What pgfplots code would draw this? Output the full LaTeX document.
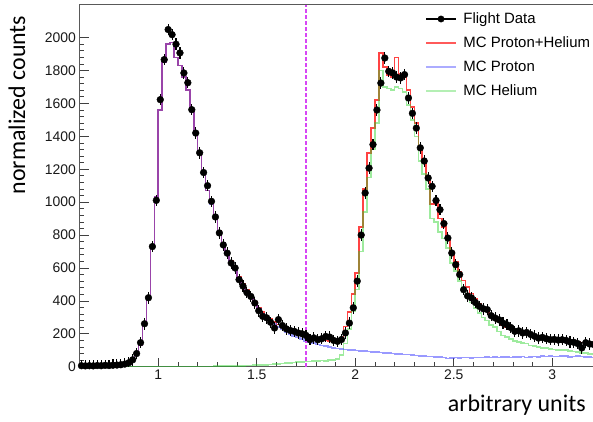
\documentclass[border=0pt]{standalone}
\usepackage{pgfplots}
\usepackage{pgfplotstable}
\usepackage{fontspec}
\setmainfont{Liberation Sans}
\newfontfamily\calib{Carlito}
\pgfplotsset{compat=1.18}
\definecolor{mcred}{RGB}{255,20,20}
\definecolor{mcblue}{RGB}{70,70,255}
\definecolor{mcgreen}{RGB}{40,210,40}
\definecolor{cutmag}{RGB}{215,70,245}

\pgfplotstableread{
x p h s d
0.61 2 0 2 6
0.63 2 0 2 5
0.65 2 0 2 6
0.67 3 0 3 5
0.69 3 0 3 7
0.71 3 0 3 6
0.73 4 0 4 8
0.75 4 0 4 7
0.77 5 0 5 9
0.79 6 0 6 10
0.81 8 0 8 12
0.83 11 0 11 16
0.85 18 0 18 24
0.87 35 0 35 42
0.89 70 0 70 80
0.91 130 0 130 146
0.93 250 0 250 261
0.95 420 0 420 419
0.97 730 0 730 730
0.99 1030 0 1030 1011
1.01 1560 0 1560 1623
1.03 1850 0 1850 1866
1.05 1960 0 1960 2049
1.07 1970 0 1970 2018
1.09 1880 0 1880 1960
1.11 1830 0 1830 1907
1.13 1760 0 1760 1785
1.15 1680 0 1680 1726
1.17 1560 0 1560 1562
1.19 1420 0 1420 1420
1.21 1290 1 1291 1300
1.23 1170 1 1171 1180
1.25 1070 2 1072 1100
1.27 990 2 992 1005
1.29 900 3 903 910
1.31 820 3 823 813
1.33 750 4 754 740
1.35 690 4 694 690
1.37 640 5 645 630
1.39 590 5 595 600
1.41 540 6 546 529
1.43 500 6 506 490
1.45 460 7 467 450
1.47 420 8 428 427
1.49 385 9 394 387
1.51 350 10 360 340
1.53 322 11 333 306
1.55 298 12 310 297
1.57 278 13 291 270
1.59 258 15 273 235
1.61 240 17 257 286
1.63 226 19 245 250
1.65 212 21 233 230
1.67 200 23 223 220
1.69 188 25 213 215
1.71 177 27 204 205
1.73 167 29 196 200
1.75 158 31 189 190
1.77 150 32 182 164
1.79 143 34 177 175
1.81 136 35 171 164
1.83 130 37 167 170
1.85 124 36 160 184
1.87 119 39 158 180
1.89 114 42 156 160
1.91 110 45 155 154
1.93 107 70 177 165
1.95 104 140 244 205
1.97 102 230 332 265
1.99 100 340 440 358
2.01 98 470 570 520
2.03 96 700 850 800
2.05 94 940 1080 1056
2.07 92 1150 1300 1207
2.09 90 1320 1450 1350
2.11 88 1480 1620 1560
2.13 86 1800 1907 1724
2.15 84 1700 1820 1876
2.17 82 1690 1770 1795
2.19 80 1680 1760 1785
2.21 79 1700 1880 1760
2.23 77 1690 1780 1755
2.25 75 1670 1760 1775
2.27 73 1590 1680 1633
2.29 71 1500 1580 1540
2.31 68 1400 1480 1450
2.33 66 1250 1330 1330
2.35 65 1170 1250 1250
2.37 63 1080 1150 1147
2.39 62 900 990 1096
2.41 60 880 1010 1010
2.43 58 820 900 954
2.45 56 780 850 870
2.47 50 720 780 782
2.49 52 630 700 691
2.51 55 580 640 620
2.53 54 520 575 560
2.55 55 470 525 468
2.57 56 430 485 430
2.59 53 390 445 418
2.61 55 355 410 390
2.63 57 325 380 367
2.65 55 300 355 352
2.67 58 280 335 347
2.69 56 255 312 310
2.71 60 240 295 296
2.73 57 215 275 285
2.75 58 190 250 265
2.77 59 182 240 255
2.79 56 168 225 238
2.81 60 158 215 215
2.83 58 150 208 218
2.85 62 144 204 205
2.87 57 140 195 208
2.89 60 130 190 196
2.91 63 124 185 185
2.93 60 118 178 174
2.95 65 114 178 178
2.97 62 112 175 170
2.99 66 108 172 164
3.01 63 104 168 166
3.03 61 100 162 162
3.05 64 103 166 164
3.07 66 100 165 160
3.09 60 96 156 150
3.11 63 92 155 148
3.13 65 88 152 140
3.15 62 85 148 114
3.17 60 82 142 146
3.19 58 78 136 138
3.21 57 76 133 135
3.23 56 74 130 132
3.25 55 72 127 130
}\hist

\begin{document}
\begin{tikzpicture}
\useasboundingbox (0,0) rectangle (593bp,422bp);
\begin{axis}[
  at={(79.5bp,55.3bp)}, anchor=south west,
  scale only axis, width=522bp, height=362bp,
  xmin=0.6, xmax=3.25, ymin=0, ymax=2200,
  xtick={1,1.5,2,2.5,3}, ytick={0,200,...,2000},
  minor x tick num=4, minor y tick num=4,
  tick align=inside, xtick pos=bottom, ytick pos=left,
  major tick length=9bp, minor tick length=4.5bp,
  tick style={black!75, line width=0.7bp},
  axis line style={black!65, line width=0.9bp},
  /pgf/number format/assume math mode=true,
  ticklabel style={font=\fontsize{14}{16}\selectfont, black!90},
  yticklabel style={/pgf/number format/1000 sep={}},
  xlabel={arbitrary units},
  xlabel style={at={(axis description cs:0.970,-0.106)}, anchor=east, inner sep=0pt,
    font=\calib\fontsize{24}{28}\selectfont},
  ylabel={normalized counts},
  ylabel style={at={(axis description cs:-0.12,0.723)}, anchor=center,
    font=\calib\fontsize{24}{28}\selectfont},
  legend image code/.code={\draw[#1] (0bp,0bp) -- (30bp,0bp);},
  legend style={at={(axis description cs:0.656,0.99)}, anchor=north west,
    draw=none, fill=none, font=\fontsize{15}{18}\selectfont,
    nodes={inner sep=1.5bp, text height=11bp, text depth=3bp}, row sep=7bp,
    /tikz/every odd column/.append style={column sep=5bp}},
  legend cell align=left,
]
\addlegendimage{legend image code/.code={\draw[black, line width=1.4bp] (0bp,0bp) -- (30bp,0bp); \fill[black] (15bp,0bp) circle (3.2bp);}}
\addlegendentry{Flight Data}
\addlegendimage{mcred, line width=1.8bp, draw opacity=0.7}
\addlegendentry{MC Proton+Helium}
\addlegendimage{mcblue, line width=1.8bp, draw opacity=0.45}
\addlegendentry{MC Proton}
\addlegendimage{mcgreen, line width=1.8bp, draw opacity=0.35}
\addlegendentry{MC Helium}

\addplot[const plot mark mid, mcred, draw opacity=0.8, line width=1.6bp, forget plot] table[x=x,y=s] {\hist};
\addplot[const plot mark mid, mcgreen, draw opacity=0.45, line width=1.6bp, forget plot] table[x=x,y=h] {\hist};
\addplot[const plot mark mid, mcblue, draw opacity=0.55, line width=1.6bp, forget plot] table[x=x,y=p] {\hist};
\addplot[cutmag, dash pattern=on 3.5bp off 2.5bp, line width=1.3bp, forget plot] coordinates {(1.75,0) (1.75,2200)};
\addplot[only marks, mark=*, mark size=3.4bp, black, forget plot,
  error bars/.cd, y dir=both, y fixed=35, x dir=both, x fixed=0.008,
  error mark=none, error bar style={black, line width=1.1bp}] table[x=x,y=d] {\hist};
\end{axis}
\end{tikzpicture}
\end{document}
